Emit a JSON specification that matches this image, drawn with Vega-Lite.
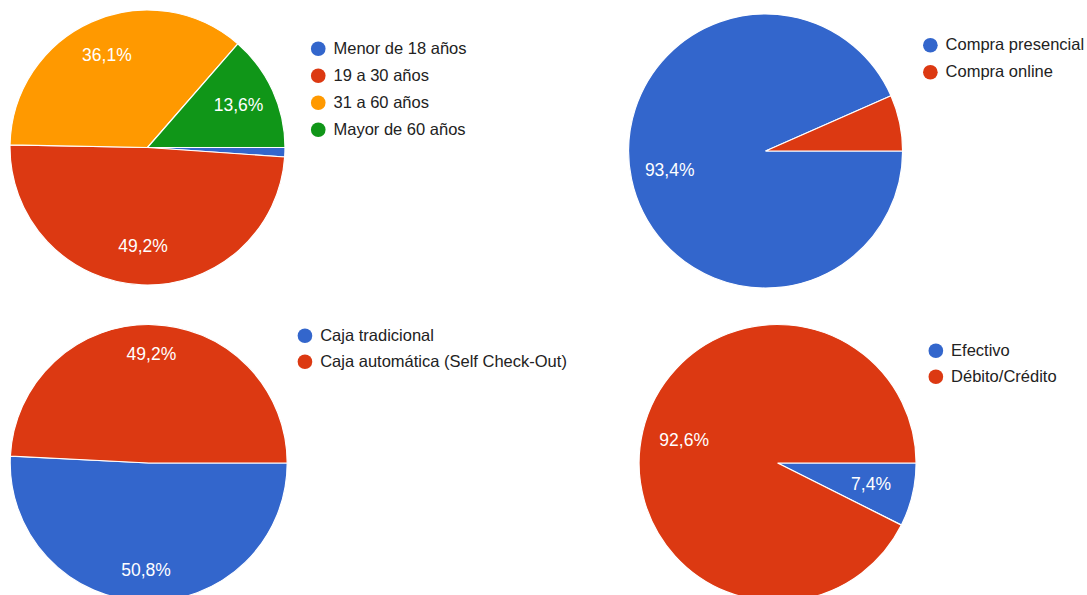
{
  "$schema": "https://vega.github.io/schema/vega-lite/v6.json",
  "padding": 0,
  "bounds": "flush",
  "columns": 2,
  "spacing": {"row": 13.5, "column": 320.1},
  "config": {
    "view": {"stroke": null},
    "font": "Liberation Sans",
    "legend": {
      "orient": "none",
      "title": null,
      "symbolType": "circle",
      "symbolSize": 215,
      "symbolStrokeWidth": 0,
      "labelFont": "Liberation Sans",
      "labelFontSize": 16.5,
      "labelColor": "#222222",
      "labelOffset": 7,
      "padding": 0,
      "labelLimit": 400
    }
  },
  "resolve": {"scale": {"color": "independent", "theta": "independent"}, "legend": {"color": "independent"}},
  "concat": [
    {
      "width": 295,
      "height": 295,
      "data": {"values": [
        {"cat": "Menor de 18 años", "value": 1.1, "label": "1,1%", "idx": 1},
        {"cat": "19 a 30 años", "value": 49.2, "label": "49,2%", "idx": 2},
        {"cat": "31 a 60 años", "value": 36.1, "label": "36,1%", "idx": 3},
        {"cat": "Mayor de 60 años", "value": 13.6, "label": "13,6%", "idx": 4}
      ]},
      "encoding": {
        "theta": {"field": "value", "type": "quantitative", "stack": true, "scale": {"range": [1.5707963, 7.8539816]}},
        "order": {"field": "idx", "type": "quantitative"}
      },
      "layer": [
        {
          "mark": {"type": "arc", "outerRadius": 137.5, "stroke": "white", "strokeWidth": 1.2},
          "encoding": {
            "color": {"field": "cat", "type": "nominal",
              "scale": {"domain": ["Menor de 18 años", "19 a 30 años", "31 a 60 años", "Mayor de 60 años"], "range": ["#3366cc", "#dc3912", "#ff9900", "#109618"]},
              "legend": {"legendX": 310, "legendY": 40.5, "rowPadding": 10}}
          }
        },
        {
          "mark": {"type": "text", "radius": 100, "fontSize": 17.5, "fill": "white"},
          "encoding": {
            "detail": {"field": "cat"},
            "text": {"field": "label", "condition": {"test": "datum.value < 5", "value": ""}}
          }
        }
      ]
    },
    {
      "width": 295,
      "height": 302,
      "data": {"values": [
        {"cat": "Compra presencial", "value": 93.4, "label": "93,4%", "idx": 1},
        {"cat": "Compra online", "value": 6.6, "label": "6,6%", "idx": 2}
      ]},
      "encoding": {
        "theta": {"field": "value", "type": "quantitative", "stack": true, "scale": {"range": [1.5707963, 7.8539816]}},
        "order": {"field": "idx", "type": "quantitative"}
      },
      "layer": [
        {
          "mark": {"type": "arc", "outerRadius": 137, "stroke": "white", "strokeWidth": 1.2},
          "encoding": {
            "color": {"field": "cat", "type": "nominal",
              "scale": {"domain": ["Compra presencial", "Compra online"], "range": ["#3366cc", "#dc3912"]},
              "legend": {"legendX": 304, "legendY": 37, "rowPadding": 10}}
          }
        },
        {
          "mark": {"type": "text", "radius": 98, "fontSize": 17.5, "fill": "white"},
          "encoding": {
            "detail": {"field": "cat"},
            "text": {"field": "label", "condition": {"test": "datum.value < 7", "value": ""}}
          }
        }
      ]
    },
    {
      "width": 297.4,
      "height": 295,
      "data": {"values": [
        {"cat": "Caja tradicional", "value": 50.8, "label": "50,8%", "idx": 1},
        {"cat": "Caja automática (Self Check-Out)", "value": 49.2, "label": "49,2%", "idx": 2}
      ]},
      "encoding": {
        "theta": {"field": "value", "type": "quantitative", "stack": true, "scale": {"range": [1.5707963, 7.8539816]}},
        "order": {"field": "idx", "type": "quantitative"}
      },
      "layer": [
        {
          "mark": {"type": "arc", "outerRadius": 138.5, "stroke": "white", "strokeWidth": 1.2},
          "encoding": {
            "color": {"field": "cat", "type": "nominal",
              "scale": {"domain": ["Caja tradicional", "Caja automática (Self Check-Out)"], "range": ["#3366cc", "#dc3912"]},
              "legend": {"legendX": 296.7, "legendY": 12, "rowPadding": 9}}
          }
        },
        {
          "mark": {"type": "text", "radius": 108, "fontSize": 17.5, "fill": "white"},
          "encoding": {
            "detail": {"field": "cat"},
            "text": {"field": "label", "type": "nominal"}
          }
        }
      ]
    },
    {
      "width": 319,
      "height": 295,
      "data": {"values": [
        {"cat": "Efectivo", "value": 7.4, "label": "7,4%", "idx": 1},
        {"cat": "Débito/Crédito", "value": 92.6, "label": "92,6%", "idx": 2}
      ]},
      "encoding": {
        "theta": {"field": "value", "type": "quantitative", "stack": true, "scale": {"range": [1.5707963, 7.8539816]}},
        "order": {"field": "idx", "type": "quantitative"}
      },
      "layer": [
        {
          "mark": {"type": "arc", "outerRadius": 138.5, "stroke": "white", "strokeWidth": 1.2},
          "encoding": {
            "color": {"field": "cat", "type": "nominal",
              "scale": {"domain": ["Efectivo", "Débito/Crédito"], "range": ["#3366cc", "#dc3912"]},
              "legend": {"legendX": 309.5, "legendY": 27, "rowPadding": 9}}
          }
        },
        {
          "mark": {"type": "text", "radius": 96, "fontSize": 17.5, "fill": "white"},
          "encoding": {
            "detail": {"field": "cat"},
            "text": {"field": "label", "type": "nominal"}
          }
        }
      ]
    }
  ]
}
